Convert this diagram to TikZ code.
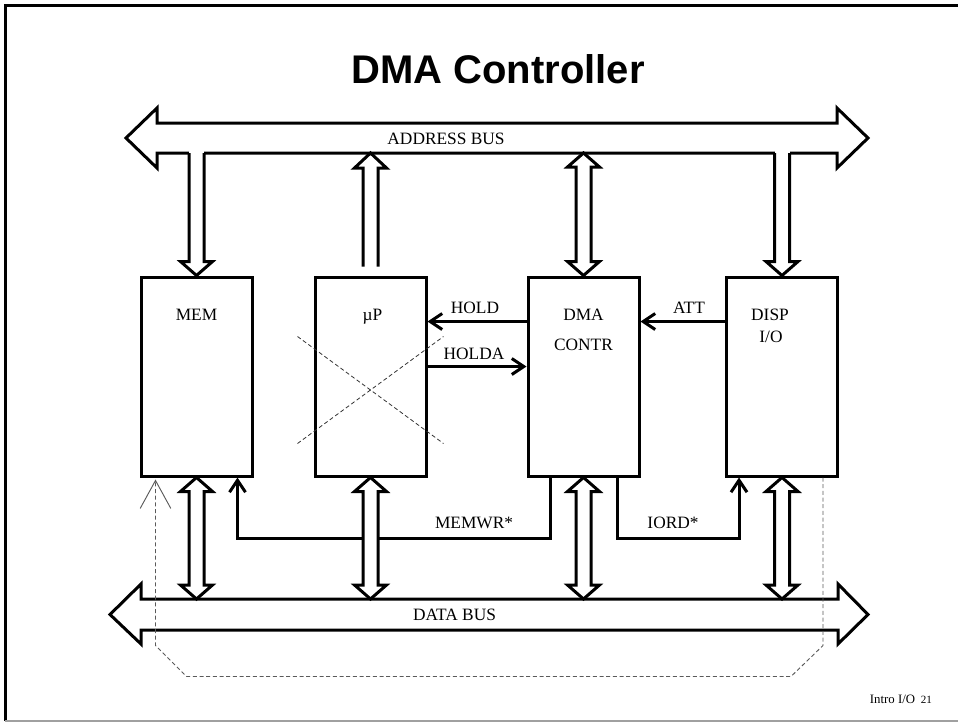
\documentclass[tikz,border=0pt]{standalone}
\usepackage{fontspec}
\setmainfont{Liberation Serif}
\newfontfamily\titlefont{Liberation Sans}
\usetikzlibrary{arrows.meta,calc,positioning}
\definecolor{dmaink}{HTML}{000000}
\definecolor{dmagrey}{HTML}{5A5A5A}
\definecolor{dmarule}{HTML}{A0A0A0}
\tikzset{
  dma text/.style={font=\fontsize{13}{15.6}\selectfont, text=dmaink},
  dma box/.style={draw=dmaink, line width=2.25pt, fill=white,
    minimum width=83.25pt, minimum height=149.25pt, inner sep=0pt},
  dma label/.style={dma text, anchor=base, inner sep=0pt},
  bus line/.style={draw=dmaink, line width=2.25pt, line join=miter, fill=white},
  sig arrow/.style={-{Straight Barb[length=9pt,width=12pt]}, line width=2.25pt,
    draw=dmaink},
  sig line/.style={line width=2.25pt, draw=dmaink},
  cross line/.style={draw=dmaink!80, line width=0.6pt, dash pattern=on 3pt off 2pt},
  loop line/.style={draw=dmagrey, line width=0.7pt, dash pattern=on 3pt off 2pt,
    -{Straight Barb[length=21pt,width=23pt,line width=0.7pt]}}
}
% hollow branch from a bus line (#1, only its y) down to a tip (#2)
\newcommand{\busdrop}[2]{%
  \fill[white] let \p1=(#1), \p2=(#2) in
    (\x2-5.625pt,\y1+2pt) rectangle (\x2+5.625pt,\y2+10.5pt);
  \draw[bus line, fill=none] let \p1=(#1), \p2=(#2) in
    (\x2-5.625pt,\y1) -- (\x2-5.625pt,\y2+10.5pt) -- (\x2-12pt,\y2+10.5pt)
    -- (\x2,\y2) -- (\x2+12pt,\y2+10.5pt) -- (\x2+5.625pt,\y2+10.5pt)
    -- (\x2+5.625pt,\y1);
}
% hollow arrow up to a tip (#1) from an open end (#2)
\newcommand{\busrise}[2]{%
  \draw[bus line, fill=none] let \p1=(#1), \p2=(#2) in
    (\x1-5.625pt,\y2) -- (\x1-5.625pt,\y1-11.25pt) -- (\x1-12pt,\y1-11.25pt)
    -- (\x1,\y1) -- (\x1+12pt,\y1-11.25pt) -- (\x1+5.625pt,\y1-11.25pt)
    -- (\x1+5.625pt,\y2);
}
% hollow double arrow between tip #1 (top) and tip #2 (bottom)
\newcommand{\busboth}[2]{%
  \draw[bus line] let \p1=(#1), \p2=(#2) in
    (\x1,\y1) -- (\x1+12pt,\y1-10.5pt) -- (\x1+5.625pt,\y1-10.5pt)
    -- (\x1+5.625pt,\y2+10.5pt) -- (\x1+12pt,\y2+10.5pt) -- (\x1,\y2)
    -- (\x1-12pt,\y2+10.5pt) -- (\x1-5.625pt,\y2+10.5pt)
    -- (\x1-5.625pt,\y1-10.5pt) -- (\x1-12pt,\y1-10.5pt) -- cycle;
}

\begin{document}
\begin{tikzpicture}[x=0.75pt, y=-0.75pt, dma text]
  \useasboundingbox (0,0) rectangle (958,722);
  % page frame
  \draw[dmaink, line width=2.25pt] (5,721) -- (5,5) -- (958,5);
  \draw[dmarule, line width=1pt] (5,721) -- (958,721);
  \node[font=\titlefont\bfseries\fontsize{30}{36}\selectfont, anchor=base,
    inner sep=0pt] (title) at (498,83) {DMA Controller};

  % buses
  \coordinate (abusb) at (0,153);
  \coordinate (dbust) at (0,599);
  \draw[bus line] (157,123) -- (837,123) -- (837,108) -- (868,138) -- (837,168)
    -- (837,153) -- (157,153) -- (157,168) -- (126,138) -- (157,108) -- cycle;
  \draw[bus line] (141,599) -- (838,599) -- (838,584) -- (868,614.5) -- (838,644)
    -- (838,630) -- (141,630) -- (141,644) -- (110,614.5) -- (141,584) -- cycle;
  \node[dma label] (abus) at (446,144) {ADDRESS BUS};
  \node[dma label] (dbus) at (454.5,620) {DATA BUS};

  % units
  \node[dma box] (mem)  at (196.5,376.5) {};
  \node[dma box] (up)   at (370.5,376.5) {};
  \node[dma box] (dma)  at (583.5,376.5) {};
  \node[dma box] (disp) at (782,376.5) {};
  \node[dma label] (memtxt) at ($(mem.north)+(0,45)$) {MEM};
  \node[dma label] (uptxt) at ($(up.north)+(2,45)$) {\textmu P};
  \node[dma label] (dmatxt) at ($(dma.north)+(0,45)$) {DMA};
  \node[dma label] (dmatxtb) at ($(dma.north)+(0,75)$) {CONTR};
  \node[dma label] (disptxt) at ($(disp.north)+(-12,45)$) {DISP};
  \node[dma label] (disptxtb) at ($(disp.north)+(-11,67)$) {I/O};

  % address bus branches
  \busdrop{abusb}{mem.north}
  \busrise{up.north |- abusb}{$(up.north)+(0,-9)$}
  \busboth{dma.north |- abusb}{dma.north}
  \busdrop{abusb}{disp.north}

  % handshake
  \coordinate (holdsrc) at ($(dma.north west)+(0,46)$);
  \coordinate (holdasrc) at ($(up.north east)+(0,91)$);
  \coordinate (attsrc) at ($(disp.north west)+(0,46)$);
  \draw[sig arrow] (holdsrc) -- (holdsrc -| up.east);
  \draw[sig arrow] (holdasrc) -- (holdasrc -| dma.west);
  \draw[sig arrow] (attsrc) -- (attsrc -| dma.east);
  \node[dma label] (hold) at (475,313) {HOLD};
  \node[dma label] (holda) at (474,359) {HOLDA};
  \node[dma label] (att) at (689,313) {ATT};

  % strobes
  \draw[sig arrow] ($(dma.south west)+(24,0)$) |- ($(mem.south east)+(-16,61)$)
    -- ($(mem.south east)+(-16,0)$);
  \draw[sig arrow] ($(dma.south east)+(-23,0)$) |- ($(disp.south west)+(14,61)$)
    -- ($(disp.south west)+(14,0)$);
  \node[dma label] (memwr) at (474,528) {MEMWR*};
  \node[dma label] (iord) at (673,528) {IORD*};

  % data bus branches
  \foreach \u in {mem,up,dma,disp}
    \busboth{\u.south}{\u.south |- dbust};

  % processor is out of the loop
  \draw[cross line] ($(up.north west)+(-16,61)$) -- ($(up.north east)+(16,168)$);
  \draw[cross line] ($(up.north west)+(-16,168)$) -- ($(up.north east)+(16,61)$);
  \draw[loop line] ($(disp.south east)+(-16,0)$) -- ++(0,168) -- ++(-32,31)
    -- ($(mem.south west)+(47,199)$) -- ++(-31,-31) -- ($(mem.south west)+(16,2)$);

  % footer
  \node[font=\fontsize{9.6}{11}\selectfont, anchor=base, inner sep=0pt] (foot)
    at (892.5,703) {Intro I/O};
  \node[font=\fontsize{8.3}{10}\selectfont, anchor=base, inner sep=0pt, right=4pt of foot.base east, anchor=base west] (pageno) {21};
\end{tikzpicture}
\end{document}
